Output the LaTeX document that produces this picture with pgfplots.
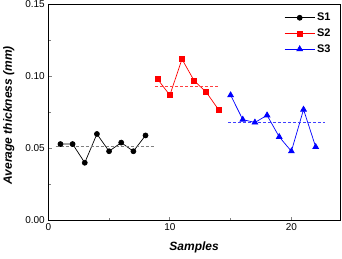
\documentclass[border=0pt]{standalone}
\usepackage{pgfplots}
\pgfplotsset{compat=1.18}
\usetikzlibrary{calc}
\usepackage{fontspec}
\setmainfont{Liberation Sans}
\begin{document}
\begin{tikzpicture}
\begin{axis}[
  scale only axis,
  width=291.7pt, height=215.8pt,
  xmin=0, xmax=24, ymin=0, ymax=0.15,
  xtick={0,10,20}, ytick={0,0.05,0.10,0.15},
  minor xtick={5,15}, minor ytick={0.025,0.075,0.125},
  tick align=inside,
  xtick pos=bottom, ytick pos=left,
  major tick length=3.5pt, minor tick length=2.5pt,
  tick style={line width=0.8pt},
  yticklabel style={/pgf/number format/fixed, /pgf/number format/fixed zerofill, /pgf/number format/precision=2},
  /pgf/number format/assume math mode=true,
  ticklabel style={font=\fontsize{10}{12}\selectfont},
  xlabel={\textbf{\textit{Samples}}},
  ylabel={\textbf{\textit{Average thickness (mm)}}},
  label style={font=\fontsize{12}{14}\selectfont},
  xlabel style={yshift=-4pt},
  ylabel style={yshift=4pt, xshift=-3pt},
  axis line style={line width=0.9pt},
  legend style={draw=none, fill=none, at={(0.975,0.97)}, anchor=north east,
    font=\fontsize{11}{12}\selectfont\bfseries, row sep=2.5pt, inner sep=0pt},
  legend cell align=left,
  legend image code/.code={\draw[mark repeat=2,mark phase=2,#1] plot coordinates {(0pt,0pt)(15pt,0pt)(30pt,0pt)};},
]
\addplot[black, line width=0.7pt, mark=*, mark size=2.5pt] coordinates {
(1,0.053)(2,0.053)(3,0.040)(4,0.060)(5,0.048)(6,0.054)(7,0.048)(8,0.059)};
\addlegendentry{S1}
\addplot[red, line width=0.7pt, mark=square*, mark size=2.5pt, mark options={solid,fill=red}] coordinates {
(9,0.098)(10,0.087)(11,0.112)(12,0.097)(13,0.089)(14,0.077)};
\addlegendentry{S2}
\addplot[blue, line width=0.7pt, mark=triangle*, mark size=3.3pt] coordinates {
(15,0.087)(16,0.070)(17,0.068)(18,0.073)(19,0.058)(20,0.048)(21,0.077)(22,0.051)};
\addlegendentry{S3}
\addplot[gray, line width=1.1pt, dash pattern=on 3pt off 2pt, forget plot] coordinates {(0.6,0.0515)(8.8,0.0515)};
\addplot[red!75, line width=1.1pt, dash pattern=on 3pt off 2pt, forget plot] coordinates {(8.8,0.0928)(14.0,0.0928)};
\addplot[blue!75, line width=1.1pt, dash pattern=on 3pt off 2pt, forget plot] coordinates {(14.8,0.068)(22.8,0.068)};
\end{axis}
\pgfresetboundingbox
\path ($(current axis.south west)+(-48.3pt,-37.7pt)$) rectangle ($(current axis.north east)+(2pt,4.5pt)$);
\end{tikzpicture}
\end{document}
